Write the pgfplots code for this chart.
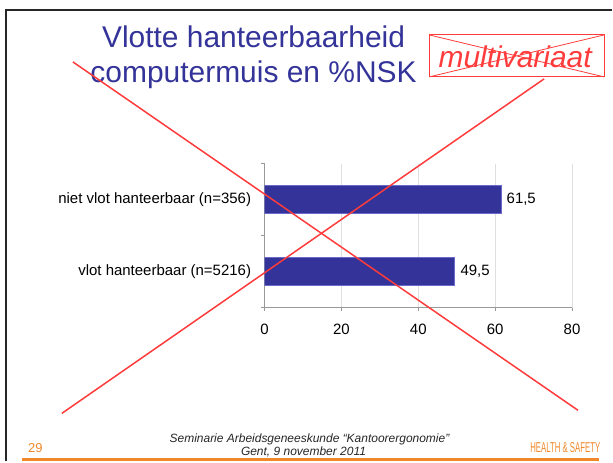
\documentclass[border=0pt]{standalone}
\usepackage{fontspec}
\setmainfont{Liberation Sans}
\usepackage{graphicx}
\usepackage{pgfplots}
\pgfplotsset{compat=1.18}
\definecolor{titleblue}{HTML}{333399}
\definecolor{barblue}{HTML}{333399}
\definecolor{baredge}{HTML}{6A6AC8}
\definecolor{slidered}{HTML}{FF3B3B}
\definecolor{footorange}{HTML}{F0882A}

\begin{document}
\begin{tikzpicture}[x=1pt,y=-1pt]
\path (0,0) rectangle (613,462);
% slide frame
\draw[line width=2pt, black!85] (6,462) -- (6,10) -- (613,10);

\begin{axis}[
  at={(265pt,-308pt)}, anchor=south west,
  scale only axis, width=308pt, height=144pt,
  xbar, bar width=28pt,
  xmin=0, xmax=80, ymin=-0.5, ymax=1.5,
  xtick={0,20,40,60,80},
  ytick={-0.5,0.5,1.5}, yticklabels={},
  extra y ticks={0,1},
  extra y tick labels={vlot hanteerbaar (n=5216), niet vlot hanteerbaar (n=356)},
  extra y tick style={major tick length=0pt, yticklabel style={xshift=-10pt}},
  axis x line*=bottom, axis y line*=left,
  axis line style={gray!80, line width=0.8pt},
  xmajorgrids, grid style={gray!25, line width=0.8pt},
  tick style={gray!80, line width=0.8pt},
  major tick length=4pt, tick align=outside,
  ticklabel style={font=\fontsize{15}{18}\selectfont},
  xticklabel style={yshift=-9pt},
  /pgf/number format/assume math mode=true,
  nodes near coords,
  nodes near coords style={font=\fontsize{15}{18}\selectfont, text=black, xshift=2pt,
    /pgf/number format/.cd, fixed, fixed zerofill, precision=1, use comma},
]
\addplot[fill=barblue, draw=baredge, line width=0.8pt] coordinates {(49.5,0) (61.5,1)};
\end{axis}

% title
\node[anchor=base, text=titleblue, font=\fontsize{30}{36}\selectfont] at (254,48) {Vlotte hanteerbaarheid};
\node[anchor=base, text=titleblue, font=\fontsize{30}{36}\selectfont] at (254,83) {computermuis en \%NSK};

% crossed-out box
\draw[slidered, line width=1pt] (430,35) rectangle (605,77);
\draw[slidered, line width=0.8pt] (430,35) -- (605,77) (430,77) -- (605,35);
\node[anchor=base, text=slidered, font=\fontsize{30}{36}\selectfont\itshape] at (516,68) {multivariaat};

% big cross
\draw[slidered, line width=1.5pt] (73,62) -- (579,411);
\draw[slidered, line width=1.5pt] (62,414) -- (545,79);

% footer
\node[anchor=base west, inner sep=0pt, text=footorange, font=\fontsize{13}{15}\selectfont] at (28,453) {29};
\node[anchor=base, inner sep=0pt, text=black!85, font=\fontsize{12}{14}\selectfont\itshape] at (310,443) {Seminarie Arbeidsgeneeskunde “Kantoorergonomie”};
\node[anchor=base, inner sep=0pt, text=black!85, font=\fontsize{12}{14}\selectfont\itshape] at (304,456) {Gent, 9 november 2011};
\node[anchor=base west, inner sep=0pt, text=footorange] at (531,453) {\resizebox{70pt}{10pt}{HEALTH \& SAFETY}};
\fill[footorange] (22,459) rectangle (600,462);
\end{tikzpicture}
\end{document}
